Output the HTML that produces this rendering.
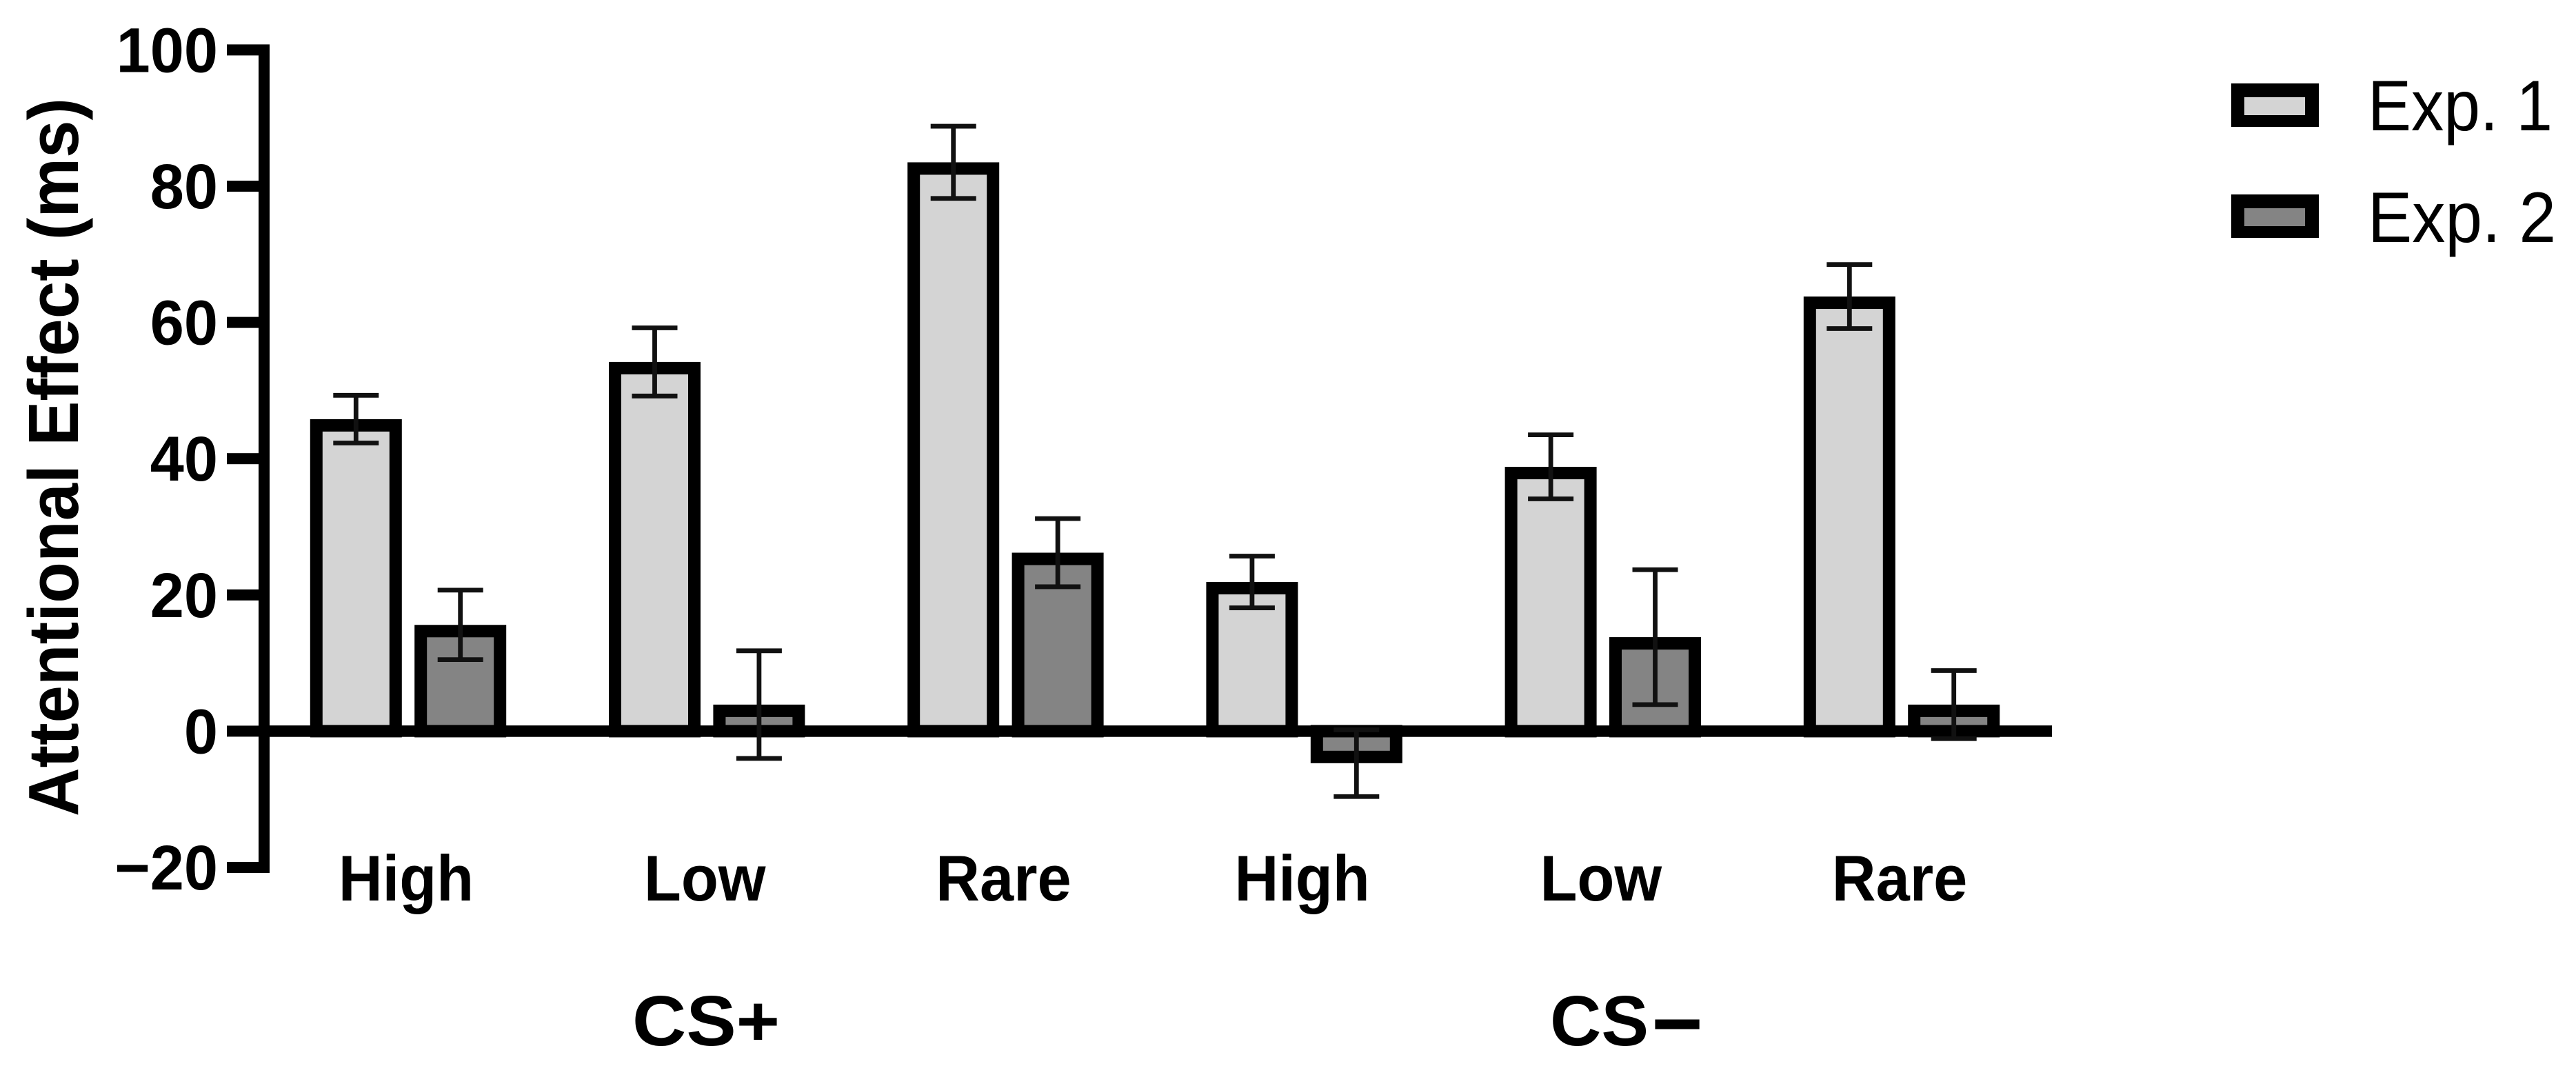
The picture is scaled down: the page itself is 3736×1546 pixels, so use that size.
<!DOCTYPE html>
<html lang="en">
<head>
<meta charset="utf-8">
<title>Attentional Effect by Condition</title>
<style>
html,body{margin:0;padding:0;background:#fff;width:3736px;height:1546px;overflow:hidden}
svg{display:block}
text{font-family:"Liberation Sans",Arial,sans-serif;fill:#000}
</style>
</head>
<body>
<svg id="chart" xmlns="http://www.w3.org/2000/svg" width="3736" height="1546" viewBox="0 0 3736 1546">
  <rect x="0" y="0" width="3736" height="1546" fill="#fff"/>
  <g id="bars"></g>
  <g id="axes"></g>
  <g id="errors"></g>
  <g id="labels"></g>
  <text transform="translate(113,663) rotate(-90)" text-anchor="middle" font-weight="700" font-size="103" textLength="1042" lengthAdjust="spacingAndGlyphs">Attentional Effect (ms)</text>
  <text x="917" y="1516" font-weight="700" font-size="103" textLength="214" lengthAdjust="spacingAndGlyphs">CS+</text>
  <text x="2248" y="1516" font-weight="700" font-size="103">CS<tspan font-size="128" dx="4" dy="12">−</tspan></text>
  <g>
    <g>
      <rect x="3236" y="121" width="127" height="63" fill="#000"/>
      <rect x="3255" y="141" width="88" height="26" fill="#d4d4d4"/>
      <text x="3434" y="189" font-size="104" textLength="268" lengthAdjust="spacingAndGlyphs">Exp. 1</text>
    </g>
    <g>
      <rect x="3236" y="282" width="127" height="63" fill="#000"/>
      <rect x="3255" y="302" width="88" height="26" fill="#848484"/>
      <text x="3434" y="351" font-size="104" textLength="273" lengthAdjust="spacingAndGlyphs">Exp. 2</text>
    </g>
  </g>
</svg>
<script>
var categories = ['High', 'Low', 'Rare', 'High', 'Low', 'Rare'];
var exp1Values = [45.8, 54.2, 83.5, 21.9, 38.8, 63.8];
var exp1Errors = [3.5, 5.0, 5.3, 3.8, 4.7, 4.7];
var exp2Values = [15.6, 3.9, 26.2, -4.7, 13.8, 3.9];
var exp2Errors = [5.1, 7.9, 5.0, 4.9, 9.9, 5.0];
var yTicks = [100, 80, 60, 40, 20, 0, -20];
var yTickLabels = ['100', '80', '60', '40', '20', '0', '\u221220'];

var NS = 'http://www.w3.org/2000/svg';
function yScale(v) { return 1060.4 - 9.88 * v; }
function xBand(i) { return 592 + 433.2 * i; }
function make(tag, parent, attrs) {
  var el = document.createElementNS(NS, tag);
  for (var k in attrs) { el.setAttribute(k, attrs[k]); }
  parent.appendChild(el);
  return el;
}
var barsG = document.getElementById('bars');
var axesG = document.getElementById('axes');
var errorsG = document.getElementById('errors');
var labelsG = document.getElementById('labels');

function drawBar(cx, v, fill, name) {
  var sw = 18, w = 133;
  var y0 = yScale(0), yv = yScale(v);
  var top = Math.min(y0, yv), h = Math.abs(y0 - yv);
  var r = make('rect', barsG, {
    x: cx - w / 2 + sw / 2, y: v >= 0 ? top + sw / 2 : top,
    width: w - sw, height: Math.max(h - sw / 2, 1),
    fill: fill, stroke: '#000', 'stroke-width': sw
  });
  
  
}
function drawError(cx, v, e, name) {
  var g = make('g', errorsG, { stroke: '#111', 'stroke-width': 6.8, fill: 'none' });
  
  
  var hi = yScale(v + e), lo = yScale(v - e);
  make('line', g, { x1: cx, x2: cx, y1: hi, y2: lo });
  make('line', g, { x1: cx - 33, x2: cx + 33, y1: hi, y2: hi });
  make('line', g, { x1: cx - 33, x2: cx + 33, y1: lo, y2: lo });
}

categories.forEach(function (cat, i) {
  var side = i < 3 ? 'cs-plus' : 'cs-minus';
  var key = side + '-' + cat.toLowerCase();
  var c1 = xBand(i) - 75.7, c2 = xBand(i) + 75.7;
  drawBar(c1, exp1Values[i], '#d4d4d4', 'bar-exp-1-' + key);
  drawBar(c2, exp2Values[i], '#848484', 'bar-exp-2-' + key);
  drawError(c1, exp1Values[i], exp1Errors[i], 'error-bar-exp-1-' + key);
  drawError(c2, exp2Values[i], exp2Errors[i], 'error-bar-exp-2-' + key);
  var t = make('text', labelsG, {
    transform: 'translate(' + (xBand(i) - 3) + ',1306) scale(0.94,1)',
    'text-anchor': 'middle', 'font-weight': 700, 'font-size': 94
  });
  t.textContent = cat;
  
  
});

var yAxis = make('rect', axesG, { x: 375, y: yScale(100) - 8, width: 16, height: yScale(-20) - yScale(100) + 16, fill: '#000' });


var xAxis = make('rect', axesG, { x: 375, y: yScale(0) - 8.3, width: 2601, height: 16.6, fill: '#000' });



yTicks.forEach(function (tick, i) {
  var y = yScale(tick);
  var m = make('rect', axesG, { x: 329, y: y - 8, width: 46, height: 16, fill: '#000' });
  
  
  var t = make('text', labelsG, {
    transform: 'translate(316,' + (y + 32) + ') scale(0.96,1)',
    'text-anchor': 'end', 'font-weight': 700, 'font-size': 92
  });
  t.textContent = yTickLabels[i];
  
  
});
</script>
</body>
</html>
